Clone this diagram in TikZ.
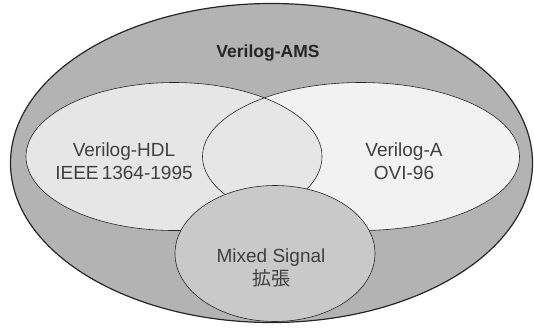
\documentclass[tikz,border=0pt]{standalone}
\usepackage{fontspec}
\setmainfont{Liberation Sans}
\newfontfamily\jpfont{Noto Sans CJK JP}
\usepackage{xcolor}
\definecolor{amsgray}{HTML}{B3B3B3}
\definecolor{hdlgray}{HTML}{E6E6E6}
\definecolor{agray}{HTML}{F2F2F2}
\definecolor{mixgray}{HTML}{C9C9C9}
\definecolor{textgray}{HTML}{404040}

\tikzset{
  outline/.style={draw=black!85, line width=0.6pt},
  titletext/.style={font=\bfseries\fontsize{17.5}{21}\selectfont, text=black!85},
  venntext/.style={align=center, font=\fontsize{19}{23}\selectfont, text=textgray, inner sep=0pt}
}

\begin{document}
\begin{tikzpicture}[x=1pt, y=-1pt]
            \useasboundingbox (0,0) rectangle (534,327);
            % Verilog-AMS set
            \draw[outline, line width=1.2pt, fill=amsgray] (271.5,163) ellipse [x radius=261, y radius=159.5];
            % Verilog-HDL and Verilog-A sets
            \fill[hdlgray] (174,156.5) ellipse [x radius=148, y radius=74];
            \fill[agray] (361,156.5) ellipse [x radius=158.5, y radius=74];
            \begin{scope}
              \clip (174,156.5) ellipse [x radius=148, y radius=74];
              \fill[hdlgray] (361,156.5) ellipse [x radius=158.5, y radius=74];
            \end{scope}
            \draw[outline] (174,156.5) ellipse [x radius=148, y radius=74];
            \draw[outline] (361,156.5) ellipse [x radius=158.5, y radius=74];
            % Mixed Signal set
            \draw[outline, fill=mixgray] (275,253.5) ellipse [x radius=100, y radius=68];

            \node[titletext, anchor=base] (ams) at (268,57) {Verilog-AMS};
            \node[venntext] (hdl) at (124,161) {Verilog-HDL\\IEEE\,1364-1995};
            \node[venntext] (vla) at (404,161) {Verilog-A\\OVI-96};
            \node[venntext] (mixed) at (271,268) {Mixed Signal\\{\jpfont 拡張}};
        \end{tikzpicture}
\end{document}
